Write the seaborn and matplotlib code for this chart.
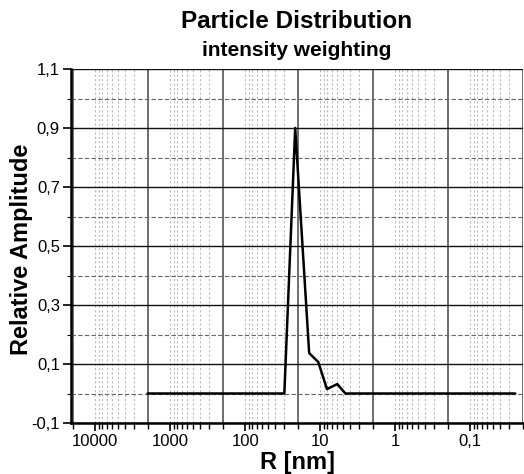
import numpy as np
import pandas as pd
import matplotlib
matplotlib.use("Agg")
import matplotlib.pyplot as plt
import matplotlib.ticker as mticker
import seaborn as sns

# data
radius_nm = [2000, 30, 21.5, 14, 10.6, 8.1, 5.9, 4.6, 0.025]
amplitude = [0.0, 0.0, 0.9, 0.137, 0.107, 0.015, 0.032, 0.0, 0.0]
x_tick_values = [10000, 1000, 100, 10, 1, 0.1]
x_tick_labels = ["10000", "1000", "100", "10", "1", "0,1"]
y_tick_values = [-0.1, 0.1, 0.3, 0.5, 0.7, 0.9, 1.1]
y_tick_labels = ["-0,1", "0,1", "0,3", "0,5", "0,7", "0,9", "1,1"]

sns.set_style("white")
plt.rcParams['font.family'] = ['Liberation Sans', 'DejaVu Sans']
plt.rcParams['text.color'] = 'black'
plt.rcParams['axes.labelcolor'] = 'black'

df = pd.DataFrame({"R": radius_nm, "amp": amplitude})

fig = plt.figure(figsize=(5.24, 4.74), dpi=100)
ax = fig.add_axes([71/524, 1-423/474, (523-71)/524, (423-69)/474])

# grid
for dec in range(-2, 5):
    for m in range(1, 10):
        v = m * 10.0**dec
        if m == 2:
            ax.axvline(v, color="#555555", lw=1.2, zorder=1)
        else:
            ax.axvline(v, color="#bbbbbb", lw=0.8, ls=(0, (2, 2)), zorder=1)
for yv in y_tick_values:
    ax.axhline(yv, color="#111111", lw=1.0, zorder=1)
for yv in [0.0, 0.2, 0.4, 0.6, 0.8, 1.0]:
    ax.axhline(yv, color="#666666", lw=0.8, ls=(0, (4, 2)), zorder=1)

sns.lineplot(data=df, x="R", y="amp", ax=ax, color="black", lw=1.8, sort=False, zorder=3)

ax.set_xscale("log")
ax.set_xlim(2.1e4, 0.0197)
ax.set_ylim(-0.1, 1.1)

ax.xaxis.set_major_locator(mticker.FixedLocator(x_tick_values))
ax.xaxis.set_major_formatter(mticker.FixedFormatter(x_tick_labels))
ax.xaxis.set_minor_locator(mticker.LogLocator(base=10, subs=np.arange(2, 10), numticks=20))
ax.xaxis.set_minor_formatter(mticker.NullFormatter())
ax.set_yticks(y_tick_values)
ax.set_yticklabels(y_tick_labels)
ax.set_yticks([0.0, 0.2, 0.4, 0.6, 0.8, 1.0], minor=True)

ax.tick_params(axis="both", which="major", direction="out", length=6, width=1.2,
               labelsize=12, colors="black", pad=2)
ax.tick_params(axis="x", which="minor", direction="out", length=4, width=1.0, colors="black")
ax.tick_params(axis="y", which="minor", direction="out", length=3, width=0.8, colors="black")
ax.xaxis.set_ticks_position("bottom")
ax.yaxis.set_ticks_position("left")

for s in ["top", "right"]:
    ax.spines[s].set_visible(False)
for s in ["left", "bottom"]:
    ax.spines[s].set_color("black")
    ax.spines[s].set_linewidth(1.8)

ax.set_xlabel("R [nm]", fontsize=17, fontweight="bold", labelpad=1, color="black")
ax.set_ylabel("Relative Amplitude", fontsize=17, fontweight="bold", color="black")
ax.yaxis.set_label_coords(-0.084, 0.49)

fig.text(297/524, 1-22/474, "Particle Distribution", ha="center", va="center",
         fontsize=17.5, fontweight="bold", color="black")
fig.text(297/524, 1-50/474, "intensity weighting", ha="center", va="center",
         fontsize=15, fontweight="bold", color="black")

fig.savefig("out.png", dpi=100)
